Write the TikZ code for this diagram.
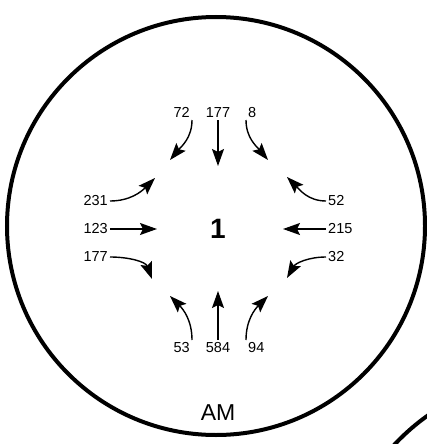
\documentclass[tikz,border=0pt]{standalone}
\usepackage{fontspec}
\setmainfont{Liberation Sans}
\usetikzlibrary{arrows.meta}
\begin{document}
\begin{tikzpicture}[x = 1pt, y = 1pt,
        flow/.style = {line width = 1.4pt, -{Stealth[length = 17pt, width = 12pt, inset = 3pt]}},
        count/.style = {font = \fontsize{14.5}{14.5}\selectfont, inner sep = 2pt}]
        \useasboundingbox (0, 0) rectangle (427, -444);
        \draw[line width = 4pt] (216, -226) circle (209pt);
        \begin{scope}
            \clip (0, 0) rectangle (427, -444);
            \draw[line width = 4pt] (555, -595) circle (220pt);
        \end{scope}
        \node[font = \bfseries\fontsize{28}{28}\selectfont] (centre) at (218, -229) {1};
        \node[font = \fontsize{23}{23}\selectfont] (am) at (218, -413) {AM};
        % counts round the node
        \foreach \n/\x/\y/\a/\t in {t1/192/-120/south east/72, t2/218/-120/south/177, t3/246/-120/south west/8,
            l1/110/-201/east/231, l2/110/-229/east/123, l3/110/-257/east/177,
            r1/326/-201/west/52, r2/326/-229/west/215, r3/326/-257/west/32,
            b1/192/-340/north east/53, b2/218/-340/north/584, b3/246/-340/north west/94}{
            \node[count, anchor = \a] (\n) at (\x, \y) {\t};
        }
        \coordinate (t1end) at (170, -160);
        \coordinate (t3end) at (268, -160);
        \coordinate (l1end) at (155, -178);
        \coordinate (l3end) at (152, -279);
        \coordinate (r1end) at (287, -177);
        \coordinate (r3end) at (287, -278);
        \coordinate (b1end) at (170, -296);
        \coordinate (b3end) at (268, -296);
        \draw[flow] (t1.south east) to[out = -90, in = 50] (t1end);
        \draw[flow] (t2.south) -- ++(0, -46);
        \draw[flow] (t3.south west) to[out = -90, in = 130] (t3end);
        \draw[flow] (l1.east) to[out = 0, in = 225] (l1end);
        \draw[flow] (l2.east) -- ++(47, 0);
        \draw[flow] (l3.east) to[out = 0, in = 110] (l3end);
        \draw[flow] (r1.west) to[out = 180, in = -45] (r1end);
        \draw[flow] (r2.west) -- ++(-43, 0);
        \draw[flow] (r3.west) to[out = 180, in = 60] (r3end);
        \draw[flow] (b1.north east) to[out = 90, in = -45] (b1end);
        \draw[flow] (b2.north) -- ++(0, 49);
        \draw[flow] (b3.north west) to[out = 90, in = 225] (b3end);
    \end{tikzpicture}
\end{document}
